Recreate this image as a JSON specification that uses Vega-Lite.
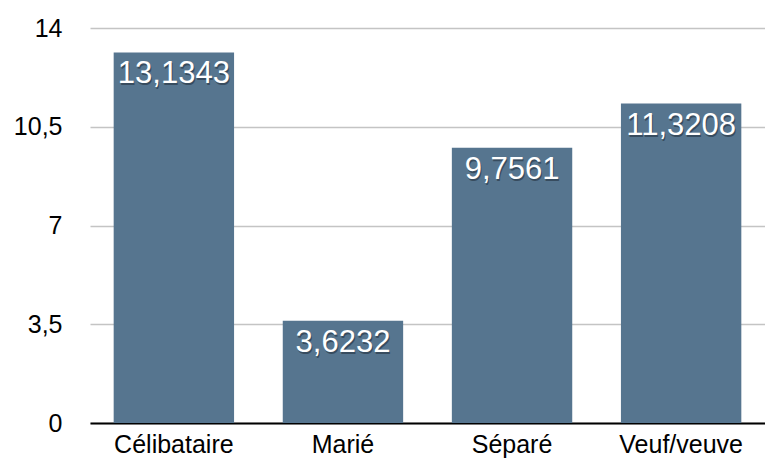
{
  "$schema": "https://vega.github.io/schema/vega-lite/v6.json",
  "width": 675,
  "height": 395,
  "autosize": "none",
  "padding": {"left": 90, "top": 28, "right": 0, "bottom": 37},
  "background": "white",
  "config": {
    "locale": {"number": {"decimal": ",", "thousands": " ", "grouping": [3], "currency": ["", " €"]}},
    "view": {"stroke": null},
    "font": "Liberation Sans"
  },
  "data": {"values": [
    {"statut": "Célibataire", "valeur": 13.1343},
    {"statut": "Marié", "valeur": 3.6232},
    {"statut": "Séparé", "valeur": 9.7561},
    {"statut": "Veuf/veuve", "valeur": 11.3208}
  ]},
  "encoding": {
    "x": {"field": "statut", "type": "nominal", "sort": null,
      "scale": {"paddingInner": 0.288, "paddingOuter": 0.14},
      "axis": {"title": null, "labelAngle": 0, "labelFontSize": 25, "labelColor": "#000", "labelPadding": 9, "ticks": false, "domainColor": "#000", "domainWidth": 2}},
    "y": {"field": "valeur", "type": "quantitative",
      "scale": {"domain": [0, 14], "nice": false},
      "axis": {"title": null, "values": [0, 3.5, 7, 10.5, 14], "format": ".1~f", "labelFontSize": 25, "labelColor": "#000", "labelPadding": 28, "ticks": false, "domain": false, "gridColor": "#c4c4c4", "gridWidth": 1.5}}
  },
  "layer": [
    {"mark": {"type": "bar", "color": "#56758f"}},
    {"mark": {"type": "text", "baseline": "top", "fontSize": 31, "color": "#1a2530", "opacity": 0.5, "dx": 1, "dy": 9},
     "encoding": {"text": {"field": "valeur", "type": "quantitative", "format": ".4f"}}},
    {"mark": {"type": "text", "baseline": "top", "fontSize": 31, "color": "#fff", "dy": 7},
     "encoding": {"text": {"field": "valeur", "type": "quantitative", "format": ".4f"}}}
  ]
}
